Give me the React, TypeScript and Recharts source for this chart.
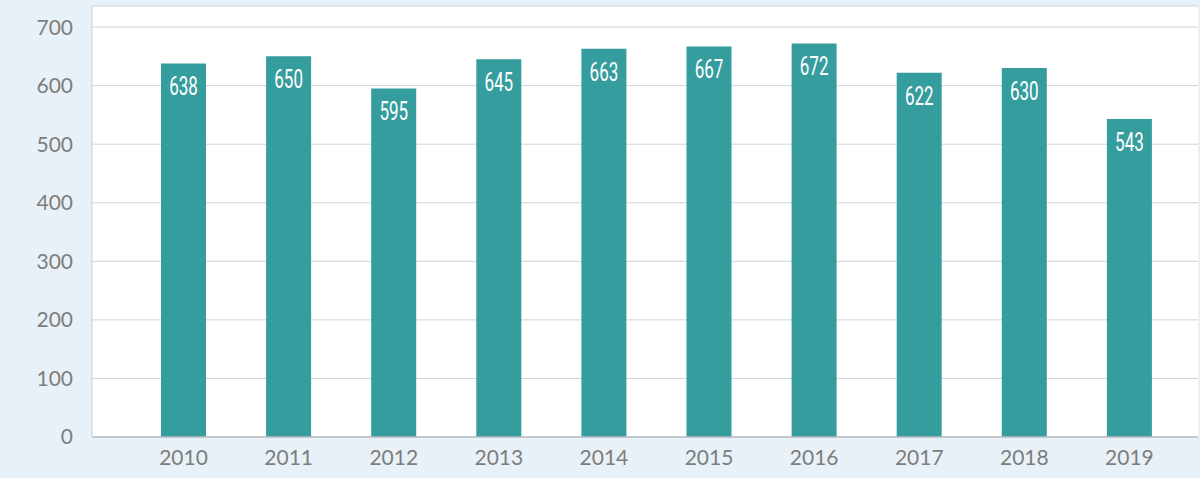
import { Bar, BarChart, CartesianGrid, LabelList, XAxis, YAxis } from 'recharts'

const years = ['2010', '2011', '2012', '2013', '2014', '2015', '2016', '2017', '2018', '2019']
const counts = [638, 650, 595, 645, 663, 667, 672, 622, 630, 543]
const yTicks = [0, 100, 200, 300, 400, 500, 600, 700]

const data = years.map((year, i) => ({ year, value: counts[i] }))

const tickFont = { fill: '#7d7d7d', fontSize: 21, fontFamily: "Lato, 'Noto Sans', sans-serif" }

// narrow white numbers near the top of each bar
function BarValue(props: any) {
  const { x, y, width, value } = props
  const cx = Number(x) + Number(width) / 2
  const cy = Number(y) + 23
  return (
    <text
      transform={`translate(${cx},${cy}) scale(0.68,1)`}
      textAnchor='middle'
      dominantBaseline='central'
      fill='#ffffff'
      fontSize={25}
      fontFamily="Roboto, 'Noto Sans', sans-serif"
    >
      {value}
    </text>
  )
}

export default function App() {
  return (
    <div
      style={{
        position: 'fixed',
        left: 0,
        top: 0,
        width: 1200,
        height: 478,
        background: '#e8f1f7',
      }}
    >
      <BarChart
        width={1200}
        height={478}
        data={data}
        margin={{ top: 6, right: 2, bottom: 0, left: 0 }}
      >
        <CartesianGrid vertical={false} stroke='#d0d3d6' fill='#ffffff' />
        <XAxis
          dataKey='year'
          height={41}
          tickLine={false}
          tickSize={0}
          tickMargin={13}
          axisLine={{ stroke: '#b9bec3', strokeWidth: 1.5 }}
          padding={{ left: 39, right: 16 }}
          tick={tickFont}
        />
        <XAxis
          xAxisId='top'
          orientation='top'
          dataKey='year'
          height={0}
          tick={false}
          tickLine={false}
          axisLine={{ stroke: '#d0d3d6' }}
        />
        <YAxis
          width={92}
          domain={[0, 736]}
          ticks={yTicks}
          tickLine={false}
          tickSize={0}
          tickMargin={19}
          axisLine={{ stroke: '#c9cdd1' }}
          tick={tickFont}
        />
        <YAxis
          yAxisId='right'
          orientation='right'
          width={0}
          tick={false}
          tickLine={false}
          axisLine={{ stroke: '#d0d3d6' }}
        />
        <Bar dataKey='value' fill='#369d9e' barSize={45} isAnimationActive={false}>
          <LabelList dataKey='value' content={BarValue} />
        </Bar>
      </BarChart>
    </div>
  )
}
